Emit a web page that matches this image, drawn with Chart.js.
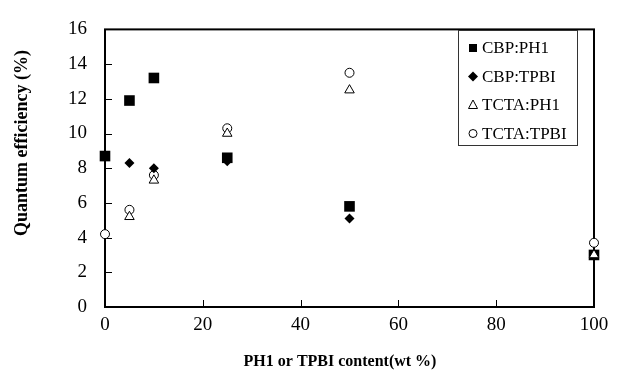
<!DOCTYPE html>
<html>
<head>
<meta charset="utf-8">
<script src="https://cdn.jsdelivr.net/npm/chart.js@4/dist/chart.umd.min.js"></script>
<style>
  body { margin: 0; background: #fff; }
  canvas { display: block; }
</style>
</head>
<body>
<canvas id="qe-chart" width="622" height="385"></canvas>
<script>
// Data
var content = [0, 5, 10, 25, 50, 100];
var cbpPh1 = [8.7, 11.9, 13.2, 8.6, 5.8, 3.0];
var cbpTpbi = [null, 8.3, 8.0, 8.4, 5.1, 3.0];
var tctaPh1 = [null, 5.2, 7.3, 10.0, 12.5, 3.0];
var tctaTpbi = [4.2, 5.6, 7.6, 10.3, 13.5, 3.7];
var xTicks = [0, 20, 40, 60, 80, 100];
var yTicks = [0, 2, 4, 6, 8, 10, 12, 14, 16];
var xTitle = 'PH1 or TPBI content(wt %)';
var yTitle = 'Quantum efficiency (%)';

var serif = '"Liberation Serif", "Times New Roman", serif';

function toPoints(vals) {
  var pts = [];
  for (var i = 0; i < content.length; i++) {
    if (vals[i] !== null) pts.push({ x: content[i], y: vals[i] });
  }
  return pts;
}

// frame + inward tick marks + axis titles
var framePlugin = {
  id: 'frame',
  beforeDatasetsDraw: function (chart) {
    var ctx = chart.ctx;
    var a = chart.chartArea;
    var xs = chart.scales.x;
    var ys = chart.scales.y;
    ctx.save();
    ctx.strokeStyle = '#000';
    ctx.lineWidth = 1;
    ctx.beginPath();
    for (var i = 0; i < yTicks.length; i++) {
      var py = Math.round(ys.getPixelForValue(yTicks[i])) + 0.5;
      ctx.moveTo(a.left, py);
      ctx.lineTo(a.left + 7, py);
    }
    for (var j = 0; j < xTicks.length; j++) {
      var px = Math.round(xs.getPixelForValue(xTicks[j])) + 0.5;
      ctx.moveTo(px, a.bottom);
      ctx.lineTo(px, a.bottom - 7);
    }
    ctx.stroke();
    ctx.lineWidth = 2;
    ctx.strokeRect(a.left, a.top, a.right - a.left, a.bottom - a.top);

    ctx.fillStyle = '#000';
    ctx.textAlign = 'center';
    ctx.textBaseline = 'middle';
    ctx.font = 'bold 16px ' + serif;
    ctx.fillText(xTitle, 340, 362);
    ctx.translate(22, 143);
    ctx.rotate(-Math.PI / 2);
    ctx.font = 'bold 18px ' + serif;
    ctx.fillText(yTitle, 0, 0);
    ctx.restore();
  }
};

// legend box drawn inside the plot, top right
function drawMarker(ctx, style, x, y) {
  ctx.beginPath();
  if (style === 'rect') {
    ctx.rect(x - 4, y - 4, 8, 8);
    ctx.fillStyle = '#000';
    ctx.fill();
  } else if (style === 'rectRot') {
    ctx.moveTo(x, y - 5);
    ctx.lineTo(x + 5, y);
    ctx.lineTo(x, y + 5);
    ctx.lineTo(x - 5, y);
    ctx.closePath();
    ctx.fillStyle = '#000';
    ctx.fill();
  } else if (style === 'triangle') {
    ctx.moveTo(x, y - 5);
    ctx.lineTo(x + 4.5, y + 3.5);
    ctx.lineTo(x - 4.5, y + 3.5);
    ctx.closePath();
    ctx.fillStyle = '#fff';
    ctx.fill();
    ctx.stroke();
  } else {
    ctx.arc(x, y, 4, 0, Math.PI * 2);
    ctx.fillStyle = '#fff';
    ctx.fill();
    ctx.stroke();
  }
}

var legendPlugin = {
  id: 'boxLegend',
  afterDraw: function (chart) {
    var ctx = chart.ctx;
    var left = 458, top = 30, w = 119, h = 115;
    ctx.save();
    ctx.fillStyle = '#fff';
    ctx.fillRect(left, top, w, h);
    ctx.strokeStyle = '#333';
    ctx.lineWidth = 1;
    ctx.strokeRect(left + 0.5, top + 0.5, w, h);
    ctx.font = '17px ' + serif;
    ctx.textBaseline = 'middle';
    var sets = chart.data.datasets;
    for (var i = 0; i < sets.length; i++) {
      var y = top + 18 + i * 28.5;
      ctx.strokeStyle = '#000';
      drawMarker(ctx, sets[i].pointStyle, left + 15, y);
      ctx.fillStyle = '#000';
      ctx.fillText(sets[i].label, left + 24, y + 1);
    }
    ctx.restore();
  }
};

var ctx = document.getElementById('qe-chart').getContext('2d');
var qeChart = new Chart(ctx, {
  type: 'scatter',
  data: {
    datasets: [
      {
        label: 'CBP:PH1',
        data: toPoints(cbpPh1),
        pointStyle: 'rect',
        pointRadius: 7.5,
        backgroundColor: '#000',
        borderColor: '#000',
        borderWidth: 0,
        order: 2,
        clip: false
      },
      {
        label: 'CBP:TPBI',
        data: toPoints(cbpTpbi),
        pointStyle: 'rectRot',
        pointRadius: 5,
        backgroundColor: '#000',
        borderColor: '#000',
        borderWidth: 0,
        order: 3,
        clip: false
      },
      {
        label: 'TCTA:PH1',
        data: toPoints(tctaPh1),
        pointStyle: 'triangle',
        pointRadius: 5.5,
        backgroundColor: '#fff',
        borderColor: '#000',
        borderWidth: 1,
        order: 1,
        clip: false
      },
      {
        label: 'TCTA:TPBI',
        data: toPoints(tctaTpbi),
        pointStyle: 'circle',
        pointRadius: 4.5,
        backgroundColor: '#fff',
        borderColor: '#000',
        borderWidth: 1,
        order: 4,
        clip: false
      }
    ]
  },
  options: {
    responsive: false,
    animation: false,
    layout: { padding: { top: 16, right: 28, left: 0, bottom: 0 } },
    plugins: {
      legend: { display: false },
      tooltip: { enabled: false }
    },
    scales: {
      x: {
        type: 'linear',
        min: 0,
        max: 100,
        afterFit: function (scale) { scale.height = 78; },
        afterBuildTicks: function (scale) {
          scale.ticks = xTicks.map(function (v) { return { value: v }; });
        },
        grid: { display: false, drawTicks: false },
        border: { display: false },
        ticks: { color: '#000', padding: 7, maxRotation: 0, font: { family: serif, size: 19 } }
      },
      y: {
        min: 0,
        max: 16,
        afterFit: function (scale) { scale.width = 105; },
        afterBuildTicks: function (scale) {
          scale.ticks = yTicks.map(function (v) { return { value: v }; });
        },
        grid: { display: false, drawTicks: false },
        border: { display: false },
        ticks: { color: '#000', padding: 18, font: { family: serif, size: 19 } }
      }
    }
  },
  plugins: [framePlugin, legendPlugin]
});
</script>
</body>
</html>
